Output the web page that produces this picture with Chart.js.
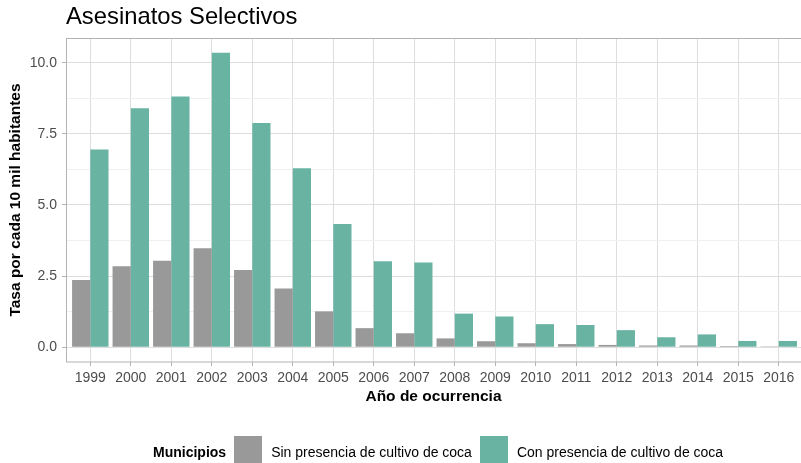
<!DOCTYPE html>
<html>
<head>
<meta charset="utf-8">
<script src="https://cdn.jsdelivr.net/npm/chart.js@4.4.1/dist/chart.umd.min.js"></script>
<style>
  html, body { margin: 0; padding: 0; background: #fff; }
  #wrap { position: relative; width: 801px; height: 463px; overflow: hidden; font-family: "Liberation Sans", Arial, sans-serif; }
  #grafico { position: absolute; left: 0; top: 0; }
  #titulo { position: absolute; left: 66px; top: 2px; font-size: 23.8px; color: #000; white-space: nowrap; }
  #leyenda { position: absolute; left: 153px; top: 436px; display: flex; align-items: center; font-size: 14px; color: #000; white-space: nowrap; }
  #leyenda .tit { font-weight: bold; margin-right: 8px; padding-top: 4px; }
  #leyenda .caja { width: 28px; height: 28px; }
  #leyenda .txt { margin-left: 9px; margin-right: 8px; padding-top: 4px; }
</style>
</head>
<body>
<div id="wrap">
  <canvas id="grafico" width="801" height="463"></canvas>
  <div id="titulo">Asesinatos Selectivos</div>
  <div id="leyenda">
    <span class="tit">Municipios</span>
    <span class="caja" style="background:#999999"></span>
    <span class="txt">Sin presencia de cultivo de coca</span>
    <span class="caja" style="background:#69b3a2"></span>
    <span class="txt">Con presencia de cultivo de coca</span>
  </div>
</div>
<script>
// === DATOS ===
const anios = ['1999', '2000', '2001', '2002', '2003', '2004', '2005', '2006', '2007',
               '2008', '2009', '2010', '2011', '2012', '2013', '2014', '2015', '2016'];
const sinCoca = [2.36, 2.85, 3.04, 3.48, 2.71, 2.06, 1.26, 0.67, 0.49,
                 0.31, 0.21, 0.14, 0.11, 0.08, 0.06, 0.06, 0.04, 0.03];
const conCoca = [6.95, 8.40, 8.81, 10.35, 7.88, 6.29, 4.33, 3.02, 2.98,
                 1.18, 1.08, 0.81, 0.78, 0.60, 0.35, 0.45, 0.22, 0.22];
const ticksY = [0, 1.25, 2.5, 3.75, 5, 6.25, 7.5, 8.75, 10];

const FUENTE = '"Liberation Sans", Arial, sans-serif';
const esMayor = v => Math.abs(v / 2.5 - Math.round(v / 2.5)) < 1e-6;

// borde gris del panel (estilo theme_light)
const bordePanel = {
  id: 'bordePanel',
  afterDatasetsDraw(chart) {
    const { ctx, chartArea } = chart;
    ctx.save();
    ctx.strokeStyle = '#b3b3b3';
    ctx.lineWidth = 1;
    ctx.strokeRect(chartArea.left + 0.5, chartArea.top + 0.5,
                   chartArea.right - chartArea.left + 10, chartArea.bottom - chartArea.top - 0.5);
    ctx.restore();
  }
};

new Chart(document.getElementById('grafico'), {
  type: 'bar',
  data: {
    datasets: [
      {
        label: 'Sin presencia de cultivo de coca',
        data: sinCoca.map((v, i) => ({ x: i, y: v })),
        backgroundColor: '#999999',
        categoryPercentage: 0.9,
        barPercentage: 1.0
      },
      {
        label: 'Con presencia de cultivo de coca',
        data: conCoca.map((v, i) => ({ x: i, y: v })),
        backgroundColor: '#69b3a2',
        categoryPercentage: 0.9,
        barPercentage: 1.0
      }
    ]
  },
  plugins: [bordePanel],
  options: {
    responsive: false,
    animation: false,
    layout: { padding: { top: 38, bottom: 51, left: 0, right: 0 } },
    plugins: {
      legend: { display: false },
      tooltip: { enabled: false }
    },
    scales: {
      x: {
        type: 'linear',
        min: -0.6,
        max: 17.55,
        offset: false,
        afterBuildTicks: s => { s.ticks = anios.map((a, i) => ({ value: i })); },
        afterFit: s => { s.height = 50; },
        ticks: {
          autoSkip: false,
          maxRotation: 0,
          padding: 4,
          color: '#4d4d4d',
          font: { family: FUENTE, size: 14 },
          callback: v => anios[v]
        },
        grid: { offset: false, color: '#dedede', tickColor: '#b3b3b3', tickLength: 4 },
        border: { display: false },
        title: {
          display: true,
          text: 'Año de ocurrencia',
          color: '#000',
          font: { family: FUENTE, size: 15.5, weight: 'bold' },
          padding: { top: 0, bottom: 6 }
        }
      },
      y: {
        min: -0.52,
        max: 10.87,
        afterBuildTicks: s => { s.ticks = ticksY.map(v => ({ value: v })); },
        afterFit: s => { s.width = 66; },
        ticks: {
          padding: 5,
          color: '#4d4d4d',
          font: { family: FUENTE, size: 14 },
          callback: v => esMayor(v) ? v.toFixed(1) : ''
        },
        grid: {
          color: c => (c.tick && esMayor(c.tick.value)) ? '#dedede' : '#efefef',
          tickColor: c => (c.tick && esMayor(c.tick.value)) ? '#b3b3b3' : 'rgba(0,0,0,0)',
          tickLength: 4
        },
        border: { display: false },
        title: {
          display: true,
          text: 'Tasa por cada 10 mil habitantes',
          color: '#000',
          font: { family: FUENTE, size: 15.5, weight: 'bold' },
          padding: { top: 6, bottom: 0 }
        }
      }
    }
  }
});
</script>
</body>
</html>
